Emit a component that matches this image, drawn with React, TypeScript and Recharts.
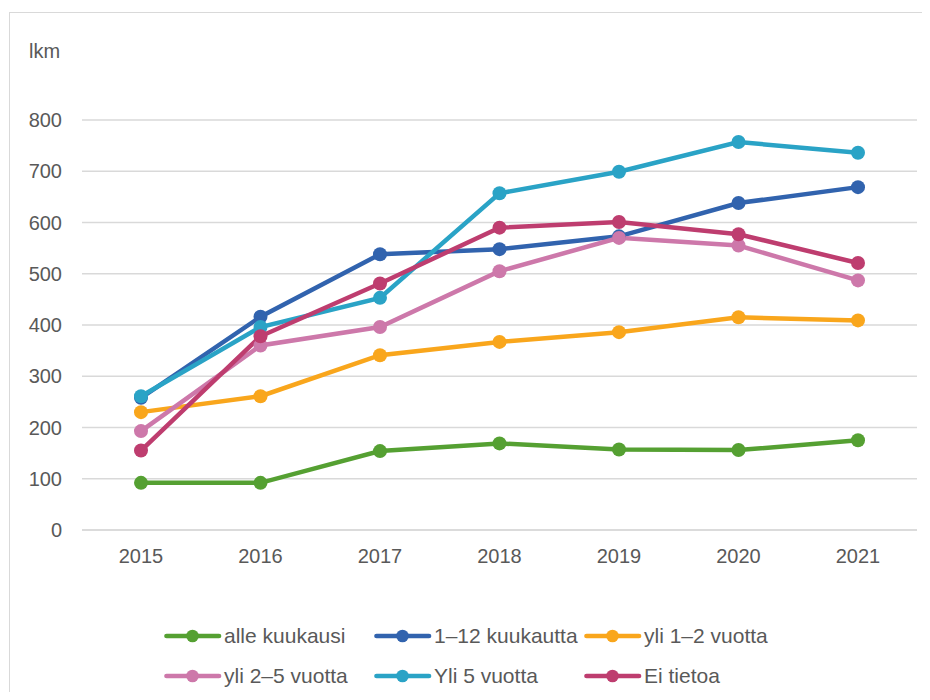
import React from 'react';
import { LineChart, Line, XAxis, YAxis, CartesianGrid } from 'recharts';

const years = ['2015', '2016', '2017', '2018', '2019', '2020', '2021'];
const alleKuukausi = [92, 92, 154, 169, 157, 156, 175];
const kuukautta1to12 = [258, 416, 538, 548, 573, 638, 669];
const vuotta1to2 = [230, 261, 341, 367, 386, 415, 409];
const vuotta2to5 = [193, 360, 396, 505, 570, 555, 487];
const yli5Vuotta = [261, 396, 453, 657, 699, 757, 736];
const eiTietoa = [155, 378, 481, 590, 601, 577, 521];
const yTicks = [0, 100, 200, 300, 400, 500, 600, 700, 800];

const series = [
  { key: 'alle', name: 'alle kuukausi', values: alleKuukausi, color: '#55A032' },
  { key: 'k112', name: '1–12 kuukautta', values: kuukautta1to12, color: '#3163AE' },
  { key: 'v12', name: 'yli 1–2 vuotta', values: vuotta1to2, color: '#F9A61C' },
  { key: 'v25', name: 'yli 2–5 vuotta', values: vuotta2to5, color: '#CD78AA' },
  { key: 'y5', name: 'Yli 5 vuotta', values: yli5Vuotta, color: '#2AA3C6' },
  { key: 'ei', name: 'Ei tietoa', values: eiTietoa, color: '#BE3D6F' },
];

const data = years.map((year, i) => {
  const row: Record<string, string | number> = { year };
  series.forEach((s) => {
    row[s.key] = s.values[i];
  });
  return row;
});

const FONT = '"Liberation Sans", Arial, sans-serif';
const TEXT = '#595959';

function LegendItem({ name, color }: { name: string; color: string }) {
  return (
    <div style={{ display: 'flex', alignItems: 'center', width: 210 }}>
      <svg width={58} height={14} style={{ flex: 'none' }}>
        <line x1={2.5} y1={7} x2={55} y2={7} stroke={color} strokeWidth={4.7} strokeLinecap="round" />
        <circle cx={28.5} cy={7} r={6.3} fill={color} />
      </svg>
      <span style={{ marginLeft: 2, whiteSpace: 'nowrap' }}>{name}</span>
    </div>
  );
}

export default function App() {
  return (
    <div style={{ position: 'relative', margin: -8, width: 930, height: 700, overflow: 'hidden', background: '#fff', fontFamily: FONT }}>
      <div
        style={{
          position: 'absolute', left: 9, top: 12, width: 950, height: 720,
          border: '1.5px solid #d9d9d9', boxSizing: 'border-box',
        }}
      />
      <div style={{ position: 'absolute', left: 29, top: 41, fontSize: 20, lineHeight: '20px', color: TEXT }}>lkm</div>
      <div style={{ position: 'absolute', left: 0, top: 0 }}>
        <LineChart width={930} height={600} data={data} margin={{ top: 120, right: 13, bottom: 30, left: 0 }}>
          <CartesianGrid vertical={false} stroke="#d9d9d9" strokeWidth={1.5} />
          <XAxis
            dataKey="year"
            height={40}
            padding={{ left: 59, right: 59 }}
            axisLine={{ stroke: '#d9d9d9', strokeWidth: 1.5 }}
            tickLine={false}
            tickSize={0}
            tickMargin={19}
            tick={{ fill: TEXT, fontSize: 20, fontFamily: FONT }}
          />
          <YAxis
            width={82}
            domain={[0, 800]}
            ticks={yTicks}
            axisLine={false}
            tickLine={false}
            tickSize={0}
            tickMargin={20}
            tick={{ fill: TEXT, fontSize: 20, fontFamily: FONT }}
          />
          {series.map((s) => (
            <Line
              key={s.key}
              dataKey={s.key}
              name={s.name}
              type="linear"
              stroke={s.color}
              strokeWidth={4.5}
              dot={{ r: 7, fill: s.color, stroke: s.color, strokeWidth: 0 }}
              activeDot={false}
              isAnimationActive={false}
            />
          ))}
        </LineChart>
      </div>
      <div style={{ position: 'absolute', left: 164, top: 622, fontSize: 21, lineHeight: '28px', color: TEXT }}>
        <div style={{ display: 'flex', height: 28 }}>
          {series.slice(0, 3).map((s) => (
            <LegendItem key={s.key} name={s.name} color={s.color} />
          ))}
        </div>
        <div style={{ display: 'flex', height: 28, marginTop: 12 }}>
          {series.slice(3).map((s) => (
            <LegendItem key={s.key} name={s.name} color={s.color} />
          ))}
        </div>
      </div>
    </div>
  );
}
